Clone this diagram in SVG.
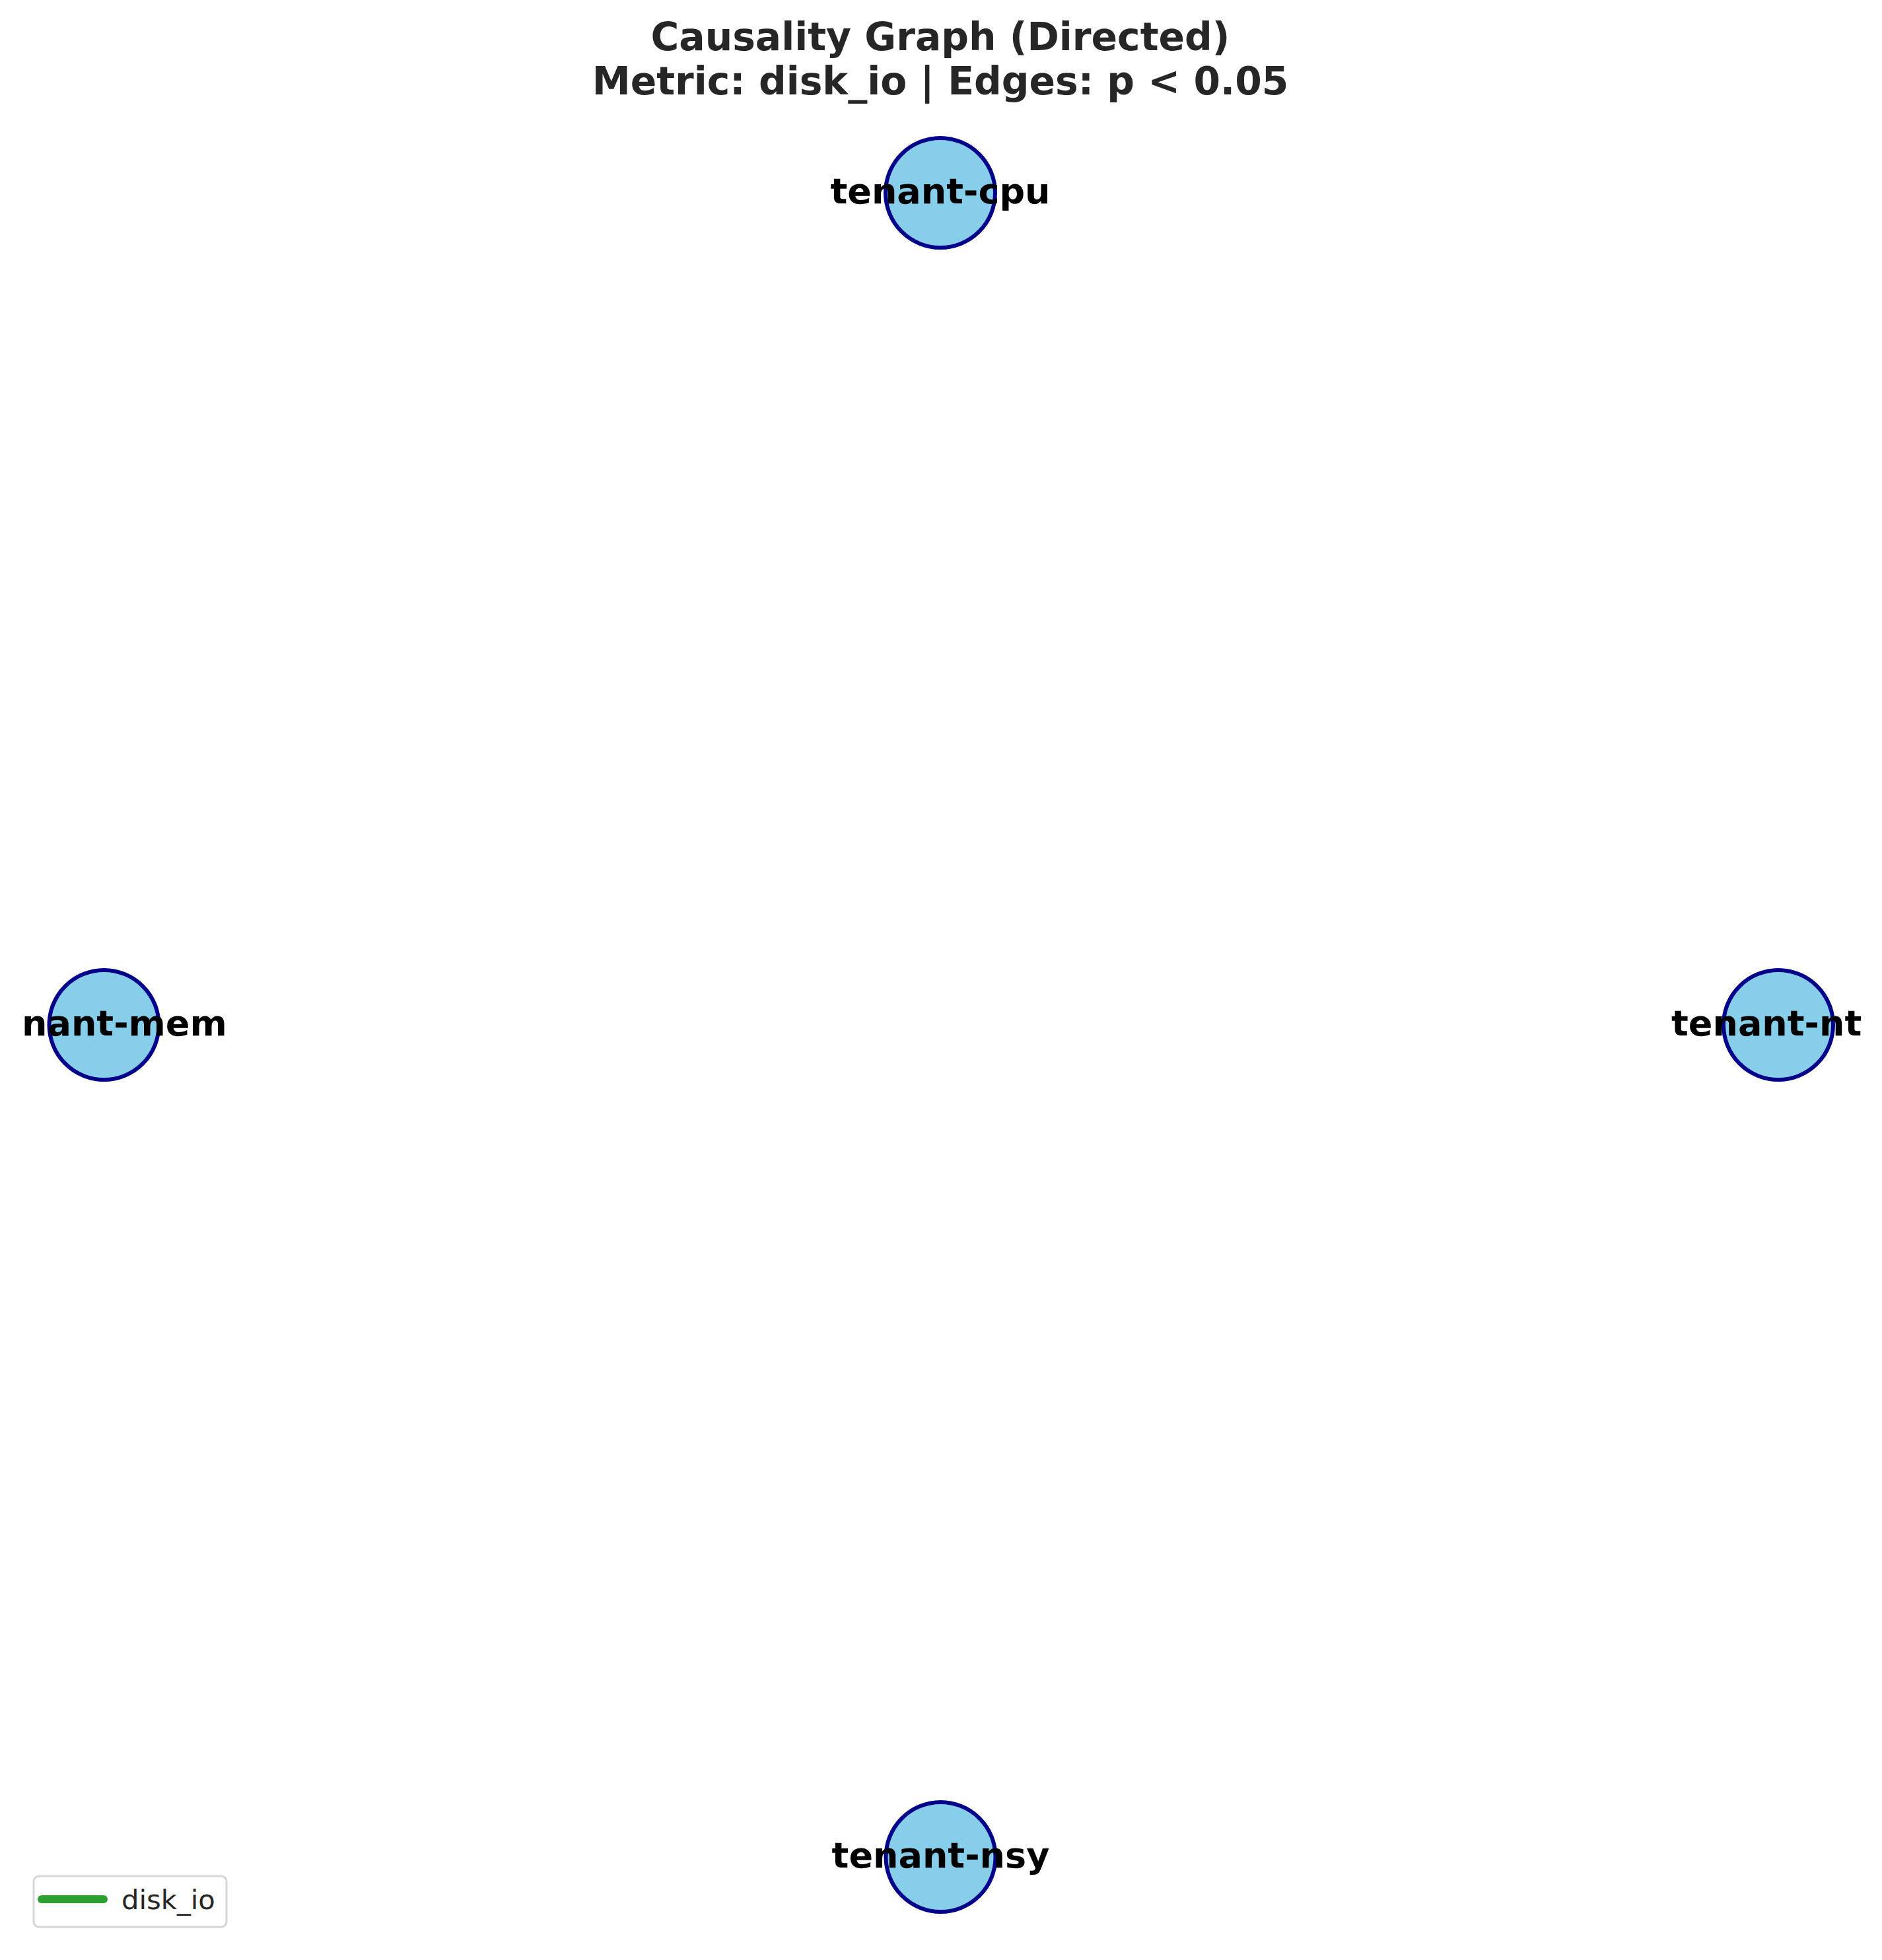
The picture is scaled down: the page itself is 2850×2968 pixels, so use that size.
<svg xmlns="http://www.w3.org/2000/svg" width="2850" height="2968" viewBox="0 0 2850 2968">
<style>
.bg{fill:#ffffff}
.title{font-family:"DejaVu Sans",sans-serif;font-weight:bold;font-size:58.3px;fill:#262626;text-anchor:middle}
.node circle{fill:#87ceeb;stroke:#00008b;stroke-width:6}
.node text{font-family:"DejaVu Sans",sans-serif;font-weight:bold;font-size:54px;fill:#000000}
.legend rect{fill:#ffffff;stroke:#d6d6d6;stroke-width:3}
.legend line{stroke:#2ca02c;stroke-width:12;stroke-linecap:round}
.legend text{font-family:"DejaVu Sans",sans-serif;font-size:41.7px;fill:#262626}
</style>
<rect class="bg" x="0" y="0" width="2850" height="2968"/>
<g id="title">
<text class="title" x="1424" y="76">Causality Graph (Directed)</text>
<text class="title" x="1424" y="143">Metric: disk_io | Edges: p &lt; 0.05</text>
</g>
<g id="connectors"></g>
<g id="node-tenant-cpu" class="node">
<circle cx="1424" cy="292" r="83"/>
<text x="1424" y="308" text-anchor="middle">tenant-cpu</text>
</g>
<g id="node-tenant-mem" class="node">
<circle cx="157.5" cy="1552" r="83"/>
<text x="33" y="1568" text-anchor="start">nant-mem</text>
</g>
<g id="node-tenant-nt" class="node">
<circle cx="2693" cy="1552" r="83"/>
<text x="2531" y="1568" text-anchor="start">tenant-nt</text>
</g>
<g id="node-tenant-nsy" class="node">
<circle cx="1424.5" cy="2812" r="83"/>
<text x="1424.5" y="2828" text-anchor="middle">tenant-nsy</text>
</g>
<g id="legend" class="legend">
<rect x="51" y="2841" width="292" height="77" rx="8" ry="8"/>
<line x1="63" y1="2876" x2="157" y2="2876"/>
<text x="184" y="2891">disk_io</text>
</g>
</svg>
